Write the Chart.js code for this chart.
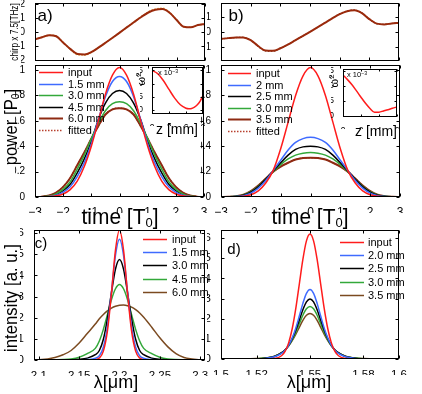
<!DOCTYPE html>
<html><head><meta charset="utf-8">
<script src="https://cdn.jsdelivr.net/npm/chart.js"></script>
<style>
html,body{margin:0;padding:0;background:#fff;}
#wrap{position:relative;width:422px;height:394px;overflow:hidden;background:#fff;}
#wrap canvas{position:absolute;left:0;top:0;}
.t{position:absolute;white-space:nowrap;color:#000;line-height:1;font-family:"Liberation Sans",Arial,sans-serif;}
.t sub{font-size:0.62em;vertical-align:-0.25em;line-height:0;}
.t sup{font-size:0.7em;vertical-align:0.45em;line-height:0;}
</style></head><body>
<div id="wrap"></div>
<script>
// ---------------- data ----------------
const timeT = [-3,-2.75,-2.5,-2.25,-2,-1.75,-1.5,-1.25,-1,-0.75,-0.5,-0.25,0,0.25,0.5,0.75,1,1.25,1.5,1.75,2,2.25,2.5,2.75,3];

const chirpA    = [-0.50,-0.35,-0.20,-0.28,-0.74,-1.20,-1.55,-1.58,-1.40,-1.08,-0.73,-0.37,0.00,0.37,0.74,1.10,1.42,1.62,1.67,1.40,0.88,0.40,0.36,0.52,0.60];
const chirpAfit = [-0.50,-0.35,-0.21,-0.28,-0.74,-1.22,-1.60,-1.63,-1.42,-1.08,-0.73,-0.37,0.00,0.37,0.75,1.12,1.46,1.67,1.72,1.43,0.88,0.40,0.36,0.52,0.60];
const chirpB    = [-0.47,-0.42,-0.38,-0.37,-0.55,-0.95,-1.25,-1.27,-1.10,-0.85,-0.57,-0.29,0.00,0.30,0.60,0.90,1.18,1.38,1.44,1.25,0.85,0.55,0.50,0.56,0.60];
const chirpBfit = [-0.47,-0.42,-0.38,-0.37,-0.56,-0.96,-1.27,-1.29,-1.11,-0.85,-0.57,-0.29,0.00,0.30,0.60,0.91,1.20,1.40,1.46,1.26,0.85,0.55,0.50,0.56,0.60];

const powerA_input = [0,0.001,0.003,0.009,0.024,0.058,0.125,0.24,0.40,0.60,0.81,0.96,1.02,0.96,0.81,0.60,0.40,0.24,0.125,0.058,0.024,0.009,0.003,0.001,0];
const powerA_15 = [0,0.001,0.004,0.014,0.038,0.08,0.16,0.27,0.42,0.61,0.79,0.91,0.95,0.91,0.79,0.61,0.42,0.27,0.16,0.08,0.038,0.014,0.004,0.001,0];
const powerA_30 = [0,0.002,0.008,0.025,0.06,0.12,0.22,0.33,0.46,0.58,0.68,0.735,0.75,0.735,0.68,0.58,0.46,0.33,0.22,0.12,0.06,0.025,0.008,0.002,0];
const powerA_45 = [0,0.001,0.006,0.02,0.05,0.10,0.19,0.30,0.44,0.61,0.74,0.815,0.84,0.815,0.74,0.61,0.44,0.30,0.19,0.10,0.05,0.02,0.006,0.001,0];
const powerA_60 = [0,0.003,0.012,0.035,0.08,0.15,0.25,0.35,0.46,0.56,0.65,0.69,0.70,0.69,0.65,0.56,0.46,0.35,0.25,0.15,0.08,0.035,0.012,0.003,0];

const powerB_input = [0,0,0.002,0.006,0.018,0.048,0.11,0.21,0.38,0.59,0.80,0.955,1.02,0.955,0.80,0.59,0.38,0.21,0.11,0.048,0.018,0.006,0.002,0,0];
const powerB_20 = [0,0.001,0.003,0.01,0.03,0.07,0.13,0.21,0.29,0.37,0.43,0.46,0.47,0.46,0.43,0.37,0.29,0.21,0.13,0.07,0.03,0.01,0.003,0.001,0];
const powerB_25 = [0,0.001,0.004,0.014,0.038,0.08,0.14,0.205,0.27,0.33,0.375,0.395,0.40,0.395,0.375,0.33,0.27,0.205,0.14,0.08,0.038,0.014,0.004,0.001,0];
const powerB_30 = [0,0.001,0.005,0.016,0.042,0.085,0.14,0.20,0.255,0.30,0.33,0.345,0.35,0.345,0.33,0.30,0.255,0.20,0.14,0.085,0.042,0.016,0.005,0.001,0];
const powerB_35 = [0,0.002,0.006,0.018,0.046,0.09,0.145,0.20,0.24,0.27,0.295,0.307,0.31,0.307,0.295,0.27,0.24,0.20,0.145,0.09,0.046,0.018,0.006,0.002,0];

const lambdaC = [2.09,2.10,2.12,2.13,2.14,2.15,2.16,2.17,2.175,2.18,2.185,2.19,2.195,2.20,2.205,2.21,2.215,2.22,2.225,2.23,2.24,2.25,2.26,2.27,2.28,2.30,2.31];
const specC_input = [0,0,0,0,0,0,0,0.015,0.09,0.42,1.36,3.14,5.20,6.15,5.20,3.14,1.36,0.42,0.09,0.015,0,0,0,0,0,0,0];
const specC_15 = [0,0,0,0,0,0.003,0.02,0.08,0.2,0.6,1.58,3.22,4.95,5.71,4.95,3.22,1.58,0.6,0.2,0.08,0.02,0.003,0,0,0,0,0];
const specC_30 = [0,0,0,0,0.01,0.03,0.09,0.25,0.45,0.98,1.95,3.18,4.30,4.75,4.30,3.18,1.95,0.98,0.45,0.25,0.09,0.03,0.01,0,0,0,0];
const specC_45 = [0,0,0.01,0.02,0.05,0.13,0.30,0.55,0.90,1.45,2.14,2.85,3.37,3.57,3.37,2.85,2.14,1.45,0.90,0.55,0.30,0.13,0.05,0.02,0.01,0,0];
const specC_60 = [0,0.01,0.12,0.25,0.45,0.80,1.25,1.70,1.95,2.15,2.32,2.45,2.54,2.59,2.60,2.57,2.50,2.38,2.22,2.02,1.55,1.05,0.62,0.30,0.12,0.01,0];

const lambdaD = [1.49,1.50,1.51,1.52,1.525,1.53,1.534,1.536,1.538,1.54,1.542,1.544,1.546,1.548,1.55,1.552,1.554,1.556,1.558,1.56,1.562,1.564,1.566,1.57,1.575,1.58,1.59,1.60,1.61];
const specD_input = [0,0,0,0,0,0.02,0.16,0.38,0.80,1.50,2.50,3.72,4.94,5.86,6.2,5.86,4.94,3.72,2.50,1.50,0.80,0.38,0.16,0.02,0,0,0,0,0];
const specD_20 = [0,0,0,0.01,0.03,0.11,0.28,0.44,0.68,1.04,1.53,2.13,2.76,3.26,3.45,3.26,2.76,2.13,1.53,1.04,0.68,0.44,0.28,0.11,0.03,0.01,0,0,0];
const specD_25 = [0,0,0.002,0.01,0.04,0.12,0.30,0.45,0.68,1.01,1.43,1.93,2.44,2.83,2.98,2.83,2.44,1.93,1.43,1.01,0.68,0.45,0.30,0.12,0.04,0.01,0.002,0,0];
const specD_30 = [0,0,0.003,0.015,0.045,0.13,0.30,0.45,0.66,0.95,1.32,1.75,2.17,2.49,2.61,2.49,2.17,1.75,1.32,0.95,0.66,0.45,0.30,0.13,0.045,0.015,0.003,0,0];
const specD_35 = [0,0,0.004,0.02,0.05,0.14,0.31,0.45,0.65,0.91,1.22,1.57,1.92,2.17,2.26,2.17,1.92,1.57,1.22,0.91,0.65,0.45,0.31,0.14,0.05,0.02,0.004,0,0];

const insetA_z = [0,1,2,3,4,5,6,6.5,7,7.5,8,8.5,9];
const insetA_w = [15,13.8,11.2,7.8,4.5,2.0,0.7,0.5,0.6,1.1,2.0,3.4,5.5];
const insetB_z = [0,0.5,1,1.5,2,2.5,3,3.5,4,4.5,5,5.5,6];
const insetB_w = [13.5,12,10.3,8.3,6.2,4.2,2.5,1.3,1.3,1.7,2.1,2.6,3.0];

const timeTicks = [-3,-2,-1,0,1,2,3];
const chirpATicks = [-2,-1,0,1,2];
const chirpBTicks = [-1,0,1];
const powerTicks = [0,0.2,0.4,0.6,0.8,1];
const specYTicks = [0,1,2,3,4,5,6];
const lambdaCTicks = [2.1,2.15,2.2,2.25,2.3];
const lambdaDTicks = [1.5,1.52,1.55,1.58,1.6];
const insetATicks = [0,3,6,9];
const insetBTicks = [0,2,4,6];
const insetYTicks = [0,5,10,15];

const legendA = ['input','1.5 mm','3.0 mm','4.5 mm','6.0 mm','fitted'];
const legendB = ['input','2 mm','2.5 mm','3.0 mm','3.5 mm','fitted'];
const legendC = ['input','1.5 mm','3.0 mm','4.5 mm','6.0 mm'];
const legendD = ['input','2.0 mm','2.5 mm','3.0 mm','3.5 mm'];

// ---------------- styling ----------------
const W = 422, H = 394;
const FF = '"Liberation Sans",Arial,sans-serif';
const C = {red:'#ff1c1c', blue:'#3f6bff', black:'#000000', green:'#33a83a', brownAB:'#8e2a12', brownCD:'#7b4a20',
           chirp:'#9a2a0c', chirpFit:'#e3a23c', fit:'#b8402e'};
const wrap = document.getElementById('wrap');

const frame = {
  id:'frame',
  beforeDraw(chart, args, o){
    if(o.bg){const a=chart.chartArea, c=chart.ctx; c.save(); c.fillStyle='#fff'; c.fillRect(a.left,a.top,a.right-a.left,a.bottom-a.top); c.restore();}
  },
  afterDatasetsDraw(chart, args, o){
    const ctx=chart.ctx, a=chart.chartArea, sx=chart.scales.x, sy=chart.scales.y;
    ctx.save();
    ctx.setLineDash([]); ctx.strokeStyle='#000'; ctx.lineWidth=1;
    const L=Math.round(a.left)+0.5, R=Math.round(a.right)-0.5, T=Math.round(a.top)+0.5, B=Math.round(a.bottom)-0.5;
    ctx.strokeRect(L,T,R-L,B-T);
    const tl=o.tl||3;
    ctx.beginPath();
    sx.ticks.forEach(t=>{const p=Math.round(sx.getPixelForValue(t.value))+0.5; ctx.moveTo(p,B); ctx.lineTo(p,B-tl); ctx.moveTo(p,T); ctx.lineTo(p,T+tl);});
    sy.ticks.forEach(t=>{const p=Math.round(sy.getPixelForValue(t.value))+0.5; ctx.moveTo(L,p); ctx.lineTo(L+tl,p); ctx.moveTo(R,p); ctx.lineTo(R-tl,p);});
    ctx.stroke();
    const lg=o.legend;
    if(lg){
      ctx.font=lg.font; ctx.textBaseline='middle'; ctx.textAlign='left'; ctx.fillStyle='#000';
      let i=0;
      chart.data.datasets.forEach(d=>{
        if(d.noLegend) return;
        const y=Math.round(lg.y+i*lg.dy)+0.5; i++;
        ctx.strokeStyle=d.borderColor; ctx.lineWidth=d.borderWidth||1.5; ctx.setLineDash(d.borderDash||[]);
        ctx.beginPath(); ctx.moveTo(lg.x,y); ctx.lineTo(lg.x+lg.len,y); ctx.stroke();
        ctx.fillText(d.label, lg.x+lg.len+lg.gap, y);
      });
    }
    ctx.restore();
  }
};

function ds(label, xs, ys, color, extra){
  return Object.assign({label, data: xs.map((x,i)=>({x, y: ys[i]})), borderColor: color, borderWidth: 1.5, fill:false}, extra||{});
}
const fmt = v => String(v).replace('-', '\u2212');

function makeChart(area, xa, ya, datasets, fopts){
  const cv=document.createElement('canvas'); cv.width=W; cv.height=H; cv.style.width=W+'px'; cv.style.height=H+'px';
  wrap.appendChild(cv);
  const YW=ya.w, XH=xa.h;
  return new Chart(cv.getContext('2d'), {
    type:'line',
    data:{datasets},
    options:{
      responsive:false, animation:false, devicePixelRatio:1, events:[],
      layout:{padding:{left:area.l-YW, top:area.t, right:W-area.r, bottom:H-area.b-XH}},
      plugins:{legend:{display:false}, tooltip:{enabled:false}, frame:fopts||{}},
      elements:{point:{radius:0}, line:{borderWidth:1.5, tension:0.4, cubicInterpolationMode:'monotone'}},
      scales:{
        x:{type:'linear', position:'bottom', min:xa.min, max:xa.max, grid:{display:false}, border:{display:false},
           afterBuildTicks:s=>{s.ticks=xa.ticks.map(v=>({value:v}));},
           afterFit:s=>{s.height=XH; s.paddingLeft=0; s.paddingRight=0; s.paddingTop=0; s.paddingBottom=0;},
           ticks:{display:xa.show!==false, autoSkip:false, maxRotation:0, minRotation:0, padding:xa.pad, color:'#000',
                  font:{family:FF, size:xa.fs}, callback:v=>fmt(v)}},
        y:{type:'linear', position:'left', min:ya.min, max:ya.max, grid:{display:false}, border:{display:false},
           afterBuildTicks:s=>{s.ticks=ya.ticks.map(v=>({value:v}));},
           afterFit:s=>{s.width=YW; s.paddingLeft=0; s.paddingRight=0; s.paddingTop=0; s.paddingBottom=0;},
           ticks:{display:true, autoSkip:false, padding:ya.pad, color:'#000',
                  font:{family:FF, size:ya.fs}, callback:v=>fmt(v)}}
      }
    },
    plugins:[frame]
  });
}

// chirp a
makeChart({l:35,t:3,r:205,b:61},
  {min:-3,max:3,ticks:timeTicks,show:false,h:10,fs:10,pad:2},
  {min:-2.05,max:2.1,ticks:chirpATicks,w:14,fs:10,pad:2},
  [ds('chirp',timeT,chirpA,C.chirp,{borderWidth:2}),
   ds('fit',timeT,chirpAfit,C.chirpFit,{borderWidth:1.5,borderDash:[1.5,1.5]})],
  {tl:3});
// chirp b
makeChart({l:221,t:3,r:399,b:61},
  {min:-3,max:3,ticks:timeTicks,show:false,h:10,fs:10,pad:2},
  {min:-1.95,max:1.93,ticks:chirpBTicks,w:14,fs:10,pad:2},
  [ds('chirp',timeT,chirpB,C.chirp,{borderWidth:2}),
   ds('fit',timeT,chirpBfit,'#5a1608',{borderWidth:1.2,borderDash:[1.5,1.5]})],
  {tl:3});
// power a
makeChart({l:35,t:65,r:204,b:197},
  {min:-3,max:3,ticks:timeTicks,h:16,fs:12,pad:0},
  {min:0,max:1.04,ticks:powerTicks,w:20,fs:10,pad:2},
  [ds(legendA[0],timeT,powerA_input,C.red),
   ds(legendA[1],timeT,powerA_15,C.blue),
   ds(legendA[2],timeT,powerA_30,C.green),
   ds(legendA[3],timeT,powerA_45,C.black),
   ds(legendA[4],timeT,powerA_60,C.brownAB,{borderWidth:2}),
   ds(legendA[5],timeT,powerA_60,C.fit,{borderWidth:1.5,borderDash:[1.5,1.5]})],
  {tl:3, legend:{x:39,y:72,dy:11.6,len:24,gap:5,font:'11px '+FF}});
// power b
makeChart({l:221,t:65,r:400,b:197},
  {min:-3,max:3,ticks:timeTicks,h:16,fs:12,pad:0},
  {min:0,max:1.04,ticks:powerTicks,w:20,fs:10,pad:2},
  [ds(legendB[0],timeT,powerB_input,C.red),
   ds(legendB[1],timeT,powerB_20,C.blue),
   ds(legendB[2],timeT,powerB_25,C.black),
   ds(legendB[3],timeT,powerB_30,C.green),
   ds(legendB[4],timeT,powerB_35,C.brownAB,{borderWidth:2}),
   ds(legendB[5],timeT,powerB_35,C.fit,{borderWidth:1.5,borderDash:[1.5,1.5]})],
  {tl:3, legend:{x:228,y:73,dy:11.6,len:23,gap:5,font:'11px '+FF}});
// inset a
makeChart({l:152,t:67,r:203,b:114},
  {min:0,max:9,ticks:insetATicks,h:12,fs:8.5,pad:1},
  {min:-1.5,max:16.3,ticks:insetYTicks,w:12,fs:8.5,pad:1},
  [ds('w',insetA_z,insetA_w,C.red)],
  {tl:2,bg:true});
// inset b
makeChart({l:343,t:69,r:397,b:117},
  {min:0,max:6,ticks:insetBTicks,h:12,fs:8.5,pad:1},
  {min:-0.3,max:15.5,ticks:insetYTicks,w:12,fs:8.5,pad:1},
  [ds('w',insetB_z,insetB_w,C.red)],
  {tl:2,bg:true});
// spectrum c
makeChart({l:34,t:230,r:205,b:360},
  {min:2.094,max:2.306,ticks:lambdaCTicks,h:16,fs:11.5,pad:1},
  {min:0,max:6.15,ticks:specYTicks,w:14,fs:11.5,pad:2},
  [ds(legendC[0],lambdaC,specC_input,C.red),
   ds(legendC[1],lambdaC,specC_15,C.blue),
   ds(legendC[2],lambdaC,specC_30,C.black),
   ds(legendC[3],lambdaC,specC_45,C.green),
   ds(legendC[4],lambdaC,specC_60,C.brownCD)],
  {tl:3, legend:{x:143,y:239,dy:13.2,len:24,gap:5,font:'11px '+FF}});
// spectrum d
makeChart({l:221,t:230,r:399,b:359},
  {min:1.5,max:1.6,ticks:lambdaDTicks,h:16,fs:11.5,pad:1},
  {min:0,max:6.4,ticks:specYTicks,w:14,fs:11.5,pad:2},
  [ds(legendD[0],lambdaD,specD_input,C.red),
   ds(legendD[1],lambdaD,specD_20,C.blue),
   ds(legendD[2],lambdaD,specD_25,C.black),
   ds(legendD[3],lambdaD,specD_30,C.green),
   ds(legendD[4],lambdaD,specD_35,C.brownCD)],
  {tl:3, legend:{x:340,y:242,dy:13.2,len:24,gap:4,font:'11px '+FF}});

// ---------------- text ----------------
function label(html, cx, cy, size, rot, sx){
  const d=document.createElement('div'); d.className='t'; d.innerHTML=html;
  d.style.left=cx+'px'; d.style.top=cy+'px'; d.style.fontSize=size+'px';
  d.style.transform='translate(-50%,-50%)'+(rot?' rotate(-90deg)':'')+(sx?' scaleX('+sx+')':'');
  wrap.appendChild(d);
}
label('chirp x 7.5[THz]', 15, 32, 10, true, 0.82);
label('power [P<sub>0</sub>]', 10, 127, 19, true, 0.88);
label('time [T<sub>0</sub>]', 120, 217, 22, false, 0.95);
label('time [T<sub>0</sub>]', 310, 217, 22, false, 0.95);
label('intensity [a. u.]', 10, 298, 19, true, 0.88);
label('\u03bb[\u03bcm]', 116, 382, 18);
label('\u03bb[\u03bcm]', 309, 382, 18);
label('a)', 45, 15, 17);
label('b)', 236, 15, 17);
label('c)', 41, 242, 15);
label('d)', 234, 248, 15);
label('x 10<sup>\u22123</sup>', 168, 73, 7.5);
label('x 10<sup>\u22123</sup>', 357, 75, 7.5);
label('\u03c9\u0303<sup>2</sup>', 141, 79, 11, true);
label('\u03c9\u0303<sup>2</sup>', 334, 81, 11, true);
label('z [mm]', 177, 129, 14);
label('z [mm]', 376, 131, 14);
</script>
</body></html>
